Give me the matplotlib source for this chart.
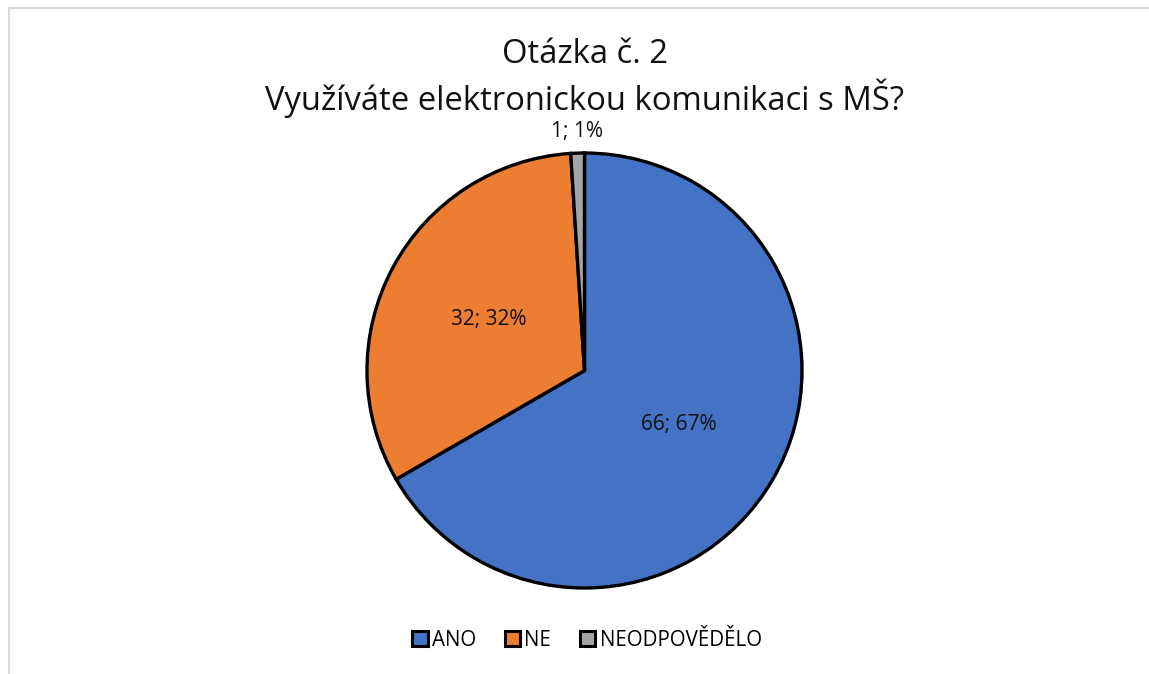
import matplotlib.pyplot as plt
import numpy as np
from matplotlib.patches import Rectangle, Patch

plt.rcParams['font.family'] = ['Open Sans', 'DejaVu Sans']

# Data
categories = ['ANO', 'NE', 'NEODPOVĚDĚLO']
counts = [66, 32, 1]
colors = ['#4472C4', '#ED7D31', '#A5A5A5']
title = 'Otázka č. 2\nVyužíváte elektronickou komunikaci s MŠ?'

W, H = 1149, 674
fig = plt.figure(figsize=(W/100, H/100), dpi=100)

# light gray chart frame (cropped at right/bottom)
fig.patches.append(Rectangle((8.5/W, -0.1), 1.2, 1 - 8.5/H + 0.1, transform=fig.transFigure,
                             fill=False, edgecolor='#D9D9D9', linewidth=1.5))

# pie axes
r_px = 217.5
cx, cy = 584.5, 370.5
ax = fig.add_axes([(cx - r_px)/W, (H - cy - r_px)/H, 2*r_px/W, 2*r_px/H])
wedges, _ = ax.pie(counts, colors=colors, startangle=90, counterclock=False,
                   wedgeprops=dict(edgecolor='black', linewidth=2.4))
ax.set_xlim(-1, 1)
ax.set_ylim(-1, 1)
ax.set_aspect('equal')

total = sum(counts)
for w, n in zip(wedges, counts):
    mid = np.deg2rad((w.theta1 + w.theta2) / 2)
    pct = round(100 * n / total)
    d = 0.5 if n / total > 0.05 else 1.1
    ax.text(d*np.cos(mid), d*np.sin(mid), f'{n}; {pct}%', ha='center', va='center',
            fontsize=15, color='#111111', clip_on=False)

fig.text(cx/W, 1 - 78/H, title, ha='center', va='center', fontsize=23.6,
         linespacing=1.22, color='#111111')

handles = [Patch(facecolor=c, edgecolor='black', linewidth=2.2) for c in colors]
fig.legend(handles, categories, loc='center', bbox_to_anchor=(587/W, 1 - 640/H), ncol=3,
           frameon=False, fontsize=14.8, handlelength=0.75, handleheight=0.75,
           handletextpad=0.2, columnspacing=1.4)

fig.savefig('out.png', dpi=100)
